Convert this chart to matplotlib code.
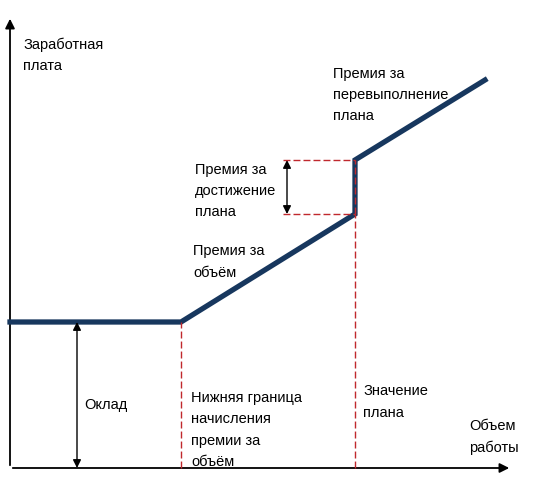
import matplotlib.pyplot as plt

# salary curve (work volume -> salary), origin at the axes corner
work = [0, 171, 345, 345, 475]
salary = [146, 146, 254, 308, 388]

base_salary = 146
low_bound = 171      # lower bound of the volume bonus
plan = 345           # plan value
plan_low = 254
plan_high = 308

navy = "#17375e"
red = "#c0282d"

plt.rcParams['font.family'] = ['Liberation Sans', 'DejaVu Sans']

fig = plt.figure(figsize=(5.34, 4.78), dpi=100)
ax = fig.add_axes([0, 0, 1, 1])
ax.set_xlim(-10, 524)
ax.set_ylim(-10, 468)
ax.axis("off")

# axes with arrows
ax.annotate("", xy=(502, 0), xytext=(0, 0),
            arrowprops=dict(arrowstyle="-|>", color="black", lw=1.3, mutation_scale=14))
ax.annotate("", xy=(0, 452), xytext=(0, 0),
            arrowprops=dict(arrowstyle="-|>", color="black", lw=1.3, mutation_scale=14))

# salary line
ax.plot(work, salary, c=navy, lw=3.8, solid_joinstyle="miter", zorder=3)

# red dashed guides
dash = dict(ls="--", c=red, lw=1, dashes=(5, 2.2), zorder=4)
ax.plot([low_bound, low_bound], [0, base_salary], **dash)
ax.plot([plan, plan], [0, plan_low], **dash)
ax.plot([plan, plan], [plan_low, plan_high], **dash)
ax.plot([273, plan], [plan_low, plan_low], **dash)
ax.plot([273, plan], [plan_high, plan_high], **dash)

# double arrows
ax.annotate("", xy=(67, 0), xytext=(67, base_salary),
            arrowprops=dict(arrowstyle="<|-|>", color="black", lw=1, mutation_scale=12,
                            shrinkA=0, shrinkB=0))
ax.annotate("", xy=(277, plan_low), xytext=(277, plan_high),
            arrowprops=dict(arrowstyle="<|-|>", color="black", lw=1, mutation_scale=12,
                            shrinkA=0, shrinkB=0))

fs = 10.5
kw = dict(fontsize=fs, va="center", ha="left", linespacing=1.65)
ax.text(13, 413, "Заработная\nплата", **kw)
ax.text(323, 373, "Премия за\nперевыполнение\nплана", **kw)
ax.text(185, 277, "Премия за\nдостижение\nплана", **kw)
ax.text(183, 206, "Премия за\nобъём", **kw)
ax.text(74, 63, "Оклад", **kw)
ax.text(181, 38, "Нижняя граница\nначисления\nпремии за\nобъём", **kw)
ax.text(353, 66, "Значение\nплана", **kw)
ax.text(459, 31, "Объем\nработы", **kw)

fig.savefig("out.png", dpi=100)
